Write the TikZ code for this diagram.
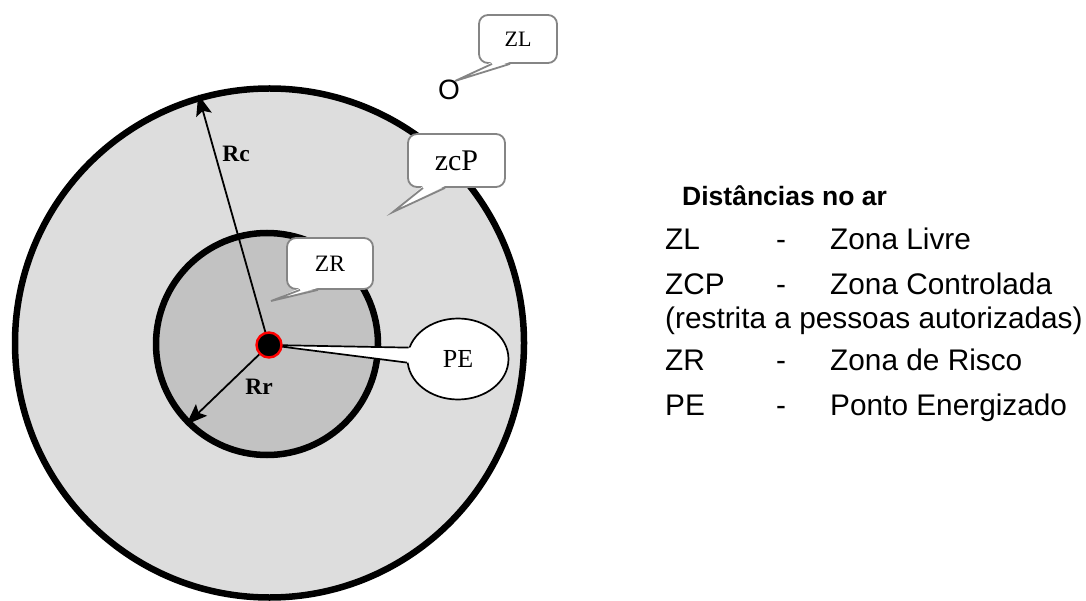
\documentclass[tikz,border=0pt]{standalone}
\usepackage{fontspec}
\setmainfont{Liberation Serif}
\newfontfamily\legendfont{Liberation Sans}
\usetikzlibrary{shapes.geometric,arrows.meta}
\definecolor{zonecp}{HTML}{DDDDDD}
\definecolor{zonerisk}{HTML}{C2C2C2}
\definecolor{calloutedge}{HTML}{858585}
\tikzset{
  zone/.style={circle, draw=black, line width=6.5pt, inner sep=0pt, outer sep=0pt},
  callbox/.style={rectangle, rounded corners=9pt, draw=calloutedge, line width=1.8pt,
    fill=white, inner sep=0pt},
  calltail/.style={draw=calloutedge, line width=1.8pt, line join=miter},
  radiusarrow/.style={-{Stealth[length=21pt,width=16pt,inset=4pt]}, line width=1.8pt},
  radiuslabel/.style={inner sep=0pt, font=\bfseries\fontsize{23.5}{26}\selectfont},
  legendtext/.style={anchor=base west, inner sep=0pt, font=\legendfont\fontsize{29.8}{34}\selectfont},
  legendhead/.style={anchor=base west, inner sep=0pt, font=\legendfont\bfseries\fontsize{26.5}{30}\selectfont}
}
\begin{document}
\begin{tikzpicture}[x=1pt,y=-1pt]
\useasboundingbox (0,0) rectangle (1086,601);

% zones around the energized point
\node[zone, fill=zonecp, minimum size=509pt] (outer) at (269.5,343) {};
\node[zone, fill=zonerisk, minimum size=222pt] (inner) at (267,344) {};
\coordinate (origin) at (269,345);

% radii
\draw[radiusarrow, shorten >=-4pt] (origin) -- (outer.106);
\draw[radiusarrow, shorten >=-3pt] (origin) -- (inner.225);
\node[radiuslabel] (rc) at (236,154) {Rc};
\node[radiuslabel] (rr) at (259,387) {Rr};

% PE callout (ellipse with a wedge to the point)
\node[ellipse, draw=black, fill=white, line width=1.7pt, minimum width=101pt,
      minimum height=81pt, inner sep=0pt, font=\fontsize{26}{28}\selectfont] (peball) at (458,359) {PE};
\fill[white] (origin) -- (peball.167) -- ([xshift=6pt]peball.167)
  -- ([xshift=6pt]peball.184) -- (peball.184) -- cycle;
\draw[line width=1.7pt] (peball.167) -- (origin) -- (peball.184);

% energized point
\node[circle, fill=black, draw=red, line width=2.4pt, minimum size=25pt, inner sep=0pt] (pe) at (origin) {};

% ZR callout
\node[callbox, minimum width=86pt, minimum height=51pt, font=\fontsize{23.5}{26}\selectfont] (zrbox) at (330,263.5) {ZR};
\coordinate (zrtip) at (271,301);
\fill[white] ([xshift=-30pt,yshift=2pt]zrbox.south) -- (zrtip) -- ([xshift=-12pt,yshift=2pt]zrbox.south) -- cycle;
\draw[calltail] ([xshift=-30pt]zrbox.south) -- (zrtip) -- ([xshift=-12pt]zrbox.south);

% ZCP callout
\node[callbox, minimum width=97pt, minimum height=53pt, font=\fontsize{30}{32}\selectfont] (zcpbox) at (456.5,160.5) {zcP};
\coordinate (zcptip) at (393,212);
\fill[white] ([xshift=-33.5pt,yshift=2pt]zcpbox.south) -- (zcptip) -- ([xshift=-11.5pt,yshift=2pt]zcpbox.south) -- cycle;
\draw[calltail] ([xshift=-33.5pt]zcpbox.south) -- (zcptip) -- ([xshift=-11.5pt]zcpbox.south);

% ZL callout
\node[callbox, minimum width=78pt, minimum height=48pt, font=\fontsize{22}{24}\selectfont] (zlbox) at (518,39) {ZL};
\node[inner sep=0pt, font=\legendfont\fontsize{28}{30}\selectfont] (zlmark) at (449,90) {O};
\coordinate (zltip) at (455,81);
\fill[white] ([xshift=-26pt,yshift=2pt]zlbox.south) -- (zltip) -- ([xshift=-8pt,yshift=2pt]zlbox.south) -- cycle;
\draw[calltail] ([xshift=-26pt]zlbox.south) -- (zltip) -- ([xshift=-8pt]zlbox.south);

% legend
\node[legendhead] (head) at (682,206) {Distâncias no ar};
\node[legendtext] (k1) at (665,250) {ZL};
\node[legendtext] (d1) at (776,250) {-};
\node[legendtext] (v1) at (830,250) {Zona Livre};
\node[legendtext] (k2) at (665,295) {ZCP};
\node[legendtext] (d2) at (776,295) {-};
\node[legendtext] (v2) at (830,295) {Zona Controlada};
\node[legendtext] (n2) at (665,328) {(restrita a pessoas autorizadas)};
\node[legendtext] (k3) at (665,370) {ZR};
\node[legendtext] (d3) at (776,370) {-};
\node[legendtext] (v3) at (830,370) {Zona de Risco};
\node[legendtext] (k4) at (665,415) {PE};
\node[legendtext] (d4) at (776,415) {-};
\node[legendtext] (v4) at (830,415) {Ponto Energizado};
\end{tikzpicture}
\end{document}
